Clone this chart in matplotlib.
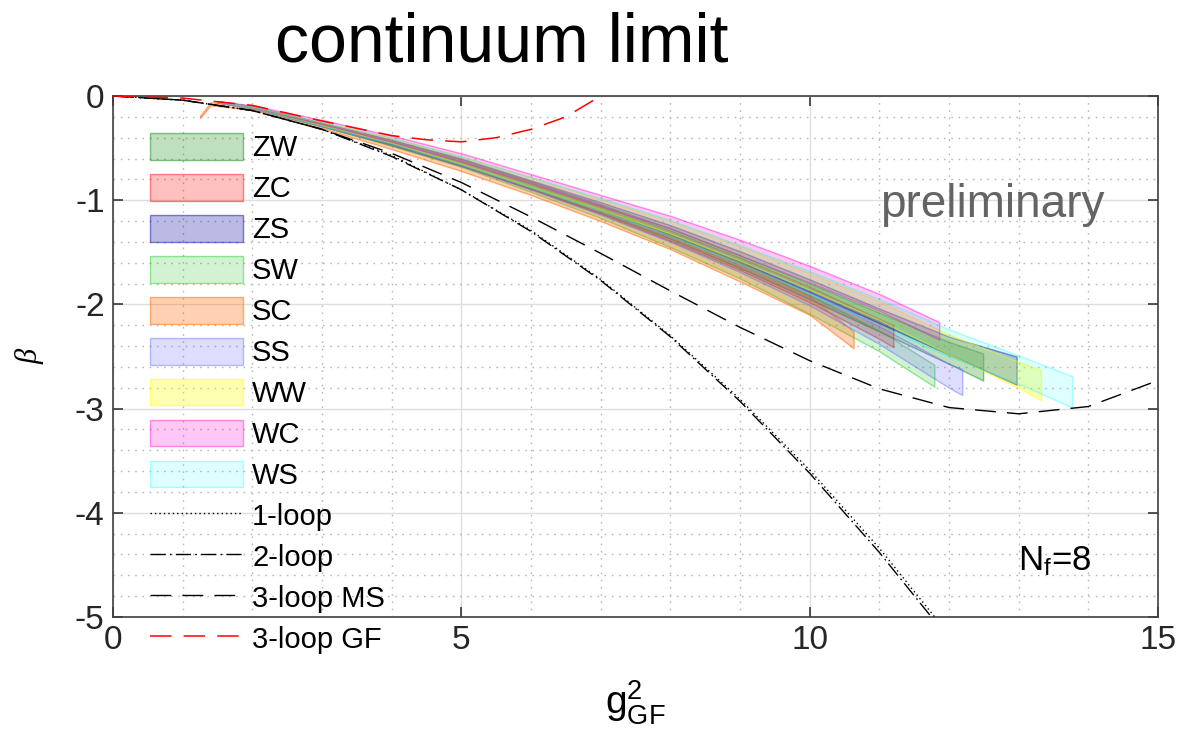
import numpy as np
import matplotlib
matplotlib.use('Agg')
import matplotlib.pyplot as plt
from matplotlib.colors import to_rgba

plt.rcParams['font.family'] = ['Liberation Sans', 'DejaVu Sans']
plt.rcParams['mathtext.fontset'] = 'custom'
plt.rcParams['mathtext.rm'] = 'Liberation Sans'
plt.rcParams['mathtext.it'] = 'Liberation Sans:italic'

# perturbative curves, values
pt_x = [0, 1, 2, 3, 4, 5, 6, 7, 8, 9, 10, 11, 12]
loop1 = [0, -0.04, -0.14, -0.32, -0.57, -0.90, -1.29, -1.76, -2.30, -2.91, -3.59, -4.34, -5.17]
loop2 = [0, -0.04, -0.14, -0.32, -0.58, -0.90, -1.30, -1.77, -2.31, -2.93, -3.62, -4.38, -5.21]

ms_x = [0, 1, 2, 3, 4, 5, 6, 7, 8, 9, 10, 11, 12, 13, 14, 15]
loop3_ms = [0, -0.04, -0.14, -0.32, -0.55, -0.83, -1.16, -1.51, -1.87, -2.22, -2.54, -2.81, -2.99,
            -3.05, -2.98, -2.73]

gf_x = [0, 1, 2, 3, 4, 4.5, 5, 5.5, 6, 6.5, 7.0]
loop3_gf = [0, -0.02, -0.09, -0.24, -0.38, -0.42, -0.44, -0.40, -0.32, -0.20, 0.0]

# continuum-limit bands (x, lower, upper)
zw_x = [1.5, 2, 3, 4, 5, 6, 7, 8, 9, 10, 11, 12, 12.49]
zw_hi = [-0.05, -0.10, -0.26, -0.43, -0.61, -0.82, -1.04, -1.27, -1.53, -1.80, -2.08, -2.36, -2.47]
zw_lo = [-0.06, -0.12, -0.29, -0.47, -0.67, -0.89, -1.12, -1.37, -1.65, -1.95, -2.26, -2.57, -2.73]

zc_x = [1.5, 2, 3, 4, 5, 6, 7, 8, 9, 10, 11, 11.2]
zc_hi = [-0.05, -0.10, -0.26, -0.43, -0.62, -0.83, -1.05, -1.29, -1.55, -1.83, -2.14, -2.20]
zc_lo = [-0.06, -0.12, -0.29, -0.47, -0.67, -0.89, -1.13, -1.39, -1.67, -1.98, -2.33, -2.41]

zs_x = [1.5, 2, 3, 4, 5, 6, 7, 8, 9, 10, 11, 12, 12.97]
zs_hi = [-0.05, -0.10, -0.26, -0.42, -0.60, -0.81, -1.02, -1.24, -1.49, -1.76, -2.04, -2.31, -2.50]
zs_lo = [-0.06, -0.12, -0.28, -0.46, -0.65, -0.87, -1.09, -1.33, -1.59, -1.88, -2.18, -2.48, -2.77]

sw_x = [1.5, 2, 3, 4, 5, 6, 7, 8, 9, 10, 11, 11.79]
sw_hi = [-0.05, -0.10, -0.26, -0.43, -0.62, -0.84, -1.07, -1.32, -1.60, -1.91, -2.25, -2.58]
sw_lo = [-0.06, -0.12, -0.29, -0.48, -0.68, -0.92, -1.17, -1.45, -1.75, -2.09, -2.45, -2.79]

sc_x = [1.25, 1.4, 2, 3, 4, 5, 6, 7, 8, 9, 10, 10.63]
sc_hi = [-0.19, -0.06, -0.10, -0.26, -0.43, -0.62, -0.83, -1.06, -1.31, -1.59, -1.92, -2.26]
sc_lo = [-0.21, -0.09, -0.13, -0.31, -0.51, -0.72, -0.95, -1.20, -1.47, -1.78, -2.10, -2.42]

ss_x = [1.5, 2, 3, 4, 5, 6, 7, 8, 9, 10, 11, 12, 12.19]
ss_hi = [-0.05, -0.10, -0.26, -0.43, -0.62, -0.83, -1.05, -1.30, -1.57, -1.87, -2.21, -2.57, -2.62]
ss_lo = [-0.06, -0.12, -0.29, -0.47, -0.67, -0.90, -1.14, -1.40, -1.69, -2.01, -2.38, -2.80, -2.87]

ww_x = [1.5, 2, 3, 4, 5, 6, 7, 8, 9, 10, 11, 12, 13, 13.32]
ww_hi = [-0.05, -0.10, -0.25, -0.40, -0.58, -0.78, -0.99, -1.20, -1.44, -1.70, -1.97, -2.29, -2.55, -2.63]
ww_lo = [-0.06, -0.12, -0.28, -0.45, -0.65, -0.87, -1.09, -1.32, -1.58, -1.86, -2.15, -2.48, -2.80, -2.92]

wc_x = [1.5, 2, 3, 4, 5, 6, 7, 8, 9, 10, 11, 11.86]
wc_hi = [-0.05, -0.09, -0.23, -0.38, -0.55, -0.75, -0.95, -1.15, -1.38, -1.63, -1.90, -2.17]
wc_lo = [-0.06, -0.12, -0.27, -0.44, -0.63, -0.84, -1.06, -1.27, -1.53, -1.79, -2.06, -2.34]

ws_x = [1.5, 2, 3, 4, 5, 6, 7, 8, 9, 10, 11, 12, 13, 13.77]
ws_hi = [-0.05, -0.10, -0.25, -0.40, -0.58, -0.78, -0.98, -1.19, -1.43, -1.68, -1.95, -2.24, -2.49, -2.69]
ws_lo = [-0.06, -0.12, -0.29, -0.46, -0.66, -0.88, -1.10, -1.34, -1.61, -1.90, -2.20, -2.50, -2.76, -2.99]

fig = plt.figure(figsize=(11.95, 7.39), dpi=100)
ax = fig.add_axes([113 / 1195, 1 - 617 / 739, 1045 / 1195, 521 / 739])

bands = [
    ('ZW', zw_x, zw_lo, zw_hi, '#008000', 0.25),
    ('ZC', zc_x, zc_lo, zc_hi, '#ff0000', 0.25),
    ('ZS', zs_x, zs_lo, zs_hi, '#0000a0', 0.27),
    ('SW', sw_x, sw_lo, sw_hi, '#00c000', 0.18),
    ('SC', sc_x, sc_lo, sc_hi, '#ff6600', 0.30),
    ('SS', ss_x, ss_lo, ss_hi, '#6666ff', 0.22),
    ('WW', ww_x, ww_lo, ww_hi, '#ffff00', 0.30),
    ('WC', wc_x, wc_lo, wc_hi, '#ff00cc', 0.22),
    ('WS', ws_x, ws_lo, ws_hi, '#00ffff', 0.13),
]
for name, bx, blo, bhi, col, a in bands:
    ax.fill_between(bx, blo, bhi, facecolor=to_rgba(col, a),
                    edgecolor=to_rgba(col, min(1, a + 0.2)), linewidth=1.0, label=name, zorder=3)

ax.plot(pt_x, loop1, color='black', lw=1.0, dashes=(1, 2.2), label='1-loop', zorder=4)
ax.plot(pt_x, loop2, color='black', lw=1.0, dashes=(11, 3, 1.2, 3), label='2-loop', zorder=4)
ax.plot(ms_x, loop3_ms, color='black', lw=1.0, dashes=(15, 8), label='3-loop MS', zorder=4)
ax.plot(gf_x, loop3_gf, color='#ff0000', lw=1.1, dashes=(14, 8), label='3-loop GF', zorder=4)

ax.set_xlim(0, 15)
ax.set_ylim(-5, 0)
ax.set_xticks([0, 5, 10, 15])
ax.set_yticks([-5, -4, -3, -2, -1, 0])
ax.set_yticklabels(['-5', '-4', '-3', '-2', '-1', '0'])
ax.set_xticks(np.arange(0, 15.01, 1), minor=True)
ax.set_yticks(np.arange(-5, 0.01, 0.2), minor=True)
ax.tick_params(which='major', direction='in', length=7, width=1.1, top=True, right=True,
               labelsize=24, colors='#262626', pad=6)
ax.tick_params(which='minor', length=0)
ax.grid(which='major', color='#dedede', lw=1.0, zorder=0)
ax.grid(which='minor', color='#b8b8b8', lw=1.0, linestyle=(0, (1.2, 4)), zorder=0)
ax.set_axisbelow(True)
for s in ax.spines.values():
    s.set_color('#404040')
    s.set_linewidth(1.2)

ax.set_xlabel(r'$\mathregular{g^2_{GF}}$', fontsize=28, labelpad=16)
ax.set_ylabel('β', fontsize=22, family='Liberation Serif', style='italic', labelpad=22)

ax.text(12.62, -1.05, 'preliminary', fontsize=33, color='#646464', ha='center', va='center')
ax.text(13.52, -4.55, r'$\mathregular{N_f}$=8', fontsize=25, ha='center', va='baseline')

fig.text(502 / 1195, 1 - 62 / 739, 'continuum limit', fontsize=49, ha='center', va='baseline')

ax.legend(loc='upper left', bbox_to_anchor=(150 / 1195, 1 - 133 / 739), bbox_transform=fig.transFigure,
          frameon=False, fontsize=21, borderpad=0, borderaxespad=0, handlelength=3.2,
          handleheight=1.03, handletextpad=0.3, labelspacing=0.40)

fig.savefig('out.png', dpi=100)
